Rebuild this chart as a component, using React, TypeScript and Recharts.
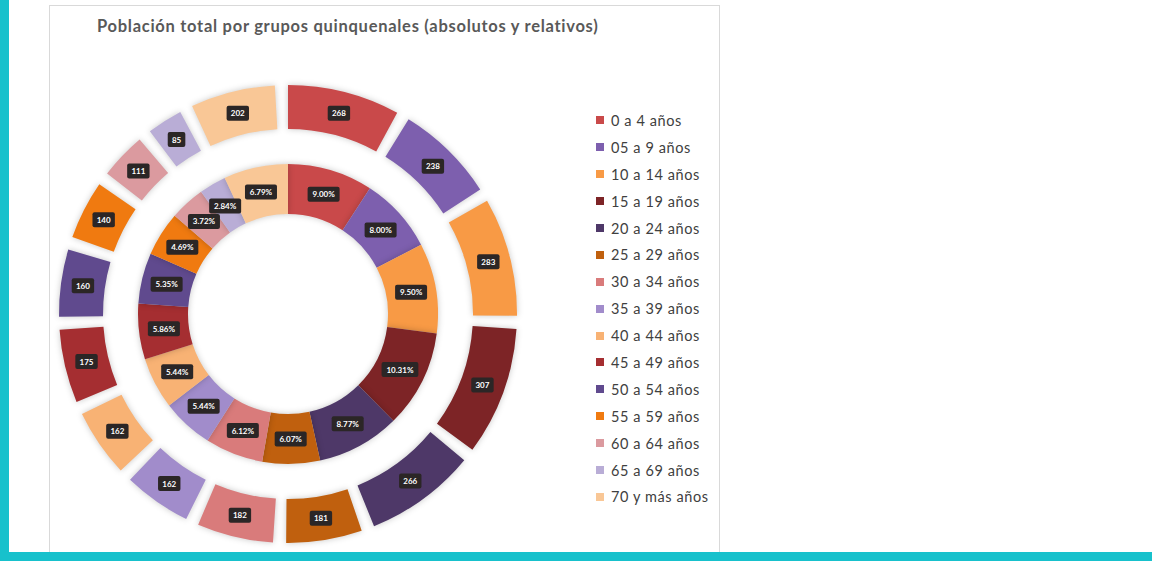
import React from 'react';
import {PieChart, Pie, Cell, Legend} from 'recharts';

const grupos = [
  '0 a 4 años',
  '05 a 9 años',
  '10 a 14 años',
  '15 a 19 años',
  '20 a 24 años',
  '25 a 29 años',
  '30 a 34 años',
  '35 a 39 años',
  '40 a 44 años',
  '45 a 49 años',
  '50 a 54 años',
  '55 a 59 años',
  '60 a 64 años',
  '65 a 69 años',
  '70 y más años',
];

const absolutos = [268, 238, 283, 307, 266, 181, 182, 162, 162, 175, 160, 140, 111, 85, 202];

const relativos = [9.0, 8.0, 9.5, 10.31, 8.77, 6.07, 6.12, 5.44, 5.44, 5.86, 5.35, 4.69, 3.72, 2.84, 6.79];

const colores = [
  '#C9494A',
  '#7D5FAE',
  '#F89A45',
  '#7D2426',
  '#4E3868',
  '#C0600E',
  '#D97B7B',
  '#A18CCB',
  '#F8B274',
  '#A52E31',
  '#604A8E',
  '#F07A10',
  '#DB9A9F',
  '#B9ADD6',
  '#F9C796',
];

const titulo = 'Población total por grupos quinquenales (absolutos y relativos)';

const outerData = grupos.map((g, i) => ({name: g, value: absolutos[i]}));
const innerData = grupos.map((g, i) => ({name: g, value: relativos[i]}));

const RAD = Math.PI / 180;

const makeLabel = (fmt: (v: number) => string) => (props: any) => {
  const {cx, cy, midAngle, innerRadius, outerRadius, value} = props;
  const r = (innerRadius + outerRadius) / 2;
  const x = cx + r * Math.cos(-midAngle * RAD);
  const y = cy + r * Math.sin(-midAngle * RAD);
  const txt = fmt(value);
  const w = txt.length * 4.8 + 8;
  return (
    <g>
      <rect x={x - w / 2} y={y - 7.5} width={w} height={15} rx={2} fill='#2b2626' />
      <text
        x={x}
        y={y}
        dy={3}
        textAnchor='middle'
        fill='#ffffff'
        fontSize={8}
        fontWeight='bold'
        fontFamily='Lato, sans-serif'
      >
        {txt}
      </text>
    </g>
  );
};

const LegendList = () => (
  <div style={{fontFamily: 'Lato, sans-serif', fontSize: 14.5, letterSpacing: 0.6, color: '#404040'}}>
    {grupos.map((g, i) => (
      <div key={g} style={{display: 'flex', alignItems: 'center', height: 26.9}}>
        <span
          style={{
            width: 8,
            height: 8,
            background: colores[i],
            marginRight: 7,
            display: 'inline-block',
          }}
        />
        {g}
      </div>
    ))}
  </div>
);

const App = () => {
  return (
    <div style={{position: 'relative', width: 1163, height: 564, background: '#fff'}}>
      <style>{`body{margin:0}
        .ring .recharts-pie-sector path{filter:drop-shadow(0 0 3px rgba(0,0,0,0.22));}`}</style>
      <div style={{position: 'absolute', left: 0, top: 0, width: 9, height: 561, background: '#17C1CC'}} />
      <div style={{position: 'absolute', left: 0, top: 552, width: 1152, height: 9, background: '#17C1CC'}} />
      <div
        style={{
          position: 'absolute',
          left: 49,
          top: 5,
          width: 671,
          height: 547,
          border: '1px solid #d9d9d9',
          borderBottom: 'none',
          boxSizing: 'border-box',
        }}
      >
        <div
          style={{
            position: 'absolute',
            left: 47,
            top: 10,
            fontFamily: 'Lato, sans-serif',
            fontWeight: 'bold',
            fontSize: 16.5,
            letterSpacing: 0.72,
            color: '#595959',
            whiteSpace: 'nowrap',
          }}
        >
          {titulo}
        </div>
        <PieChart width={669} height={546}>
          <Pie
            className='ring'
            data={outerData}
            dataKey='value'
            nameKey='name'
            cx={233}
            cy={303}
            startAngle={90}
            endAngle={-270}
            innerRadius={185}
            outerRadius={229}
            paddingAngle={3.3}
            stroke='none'
            label={makeLabel((v) => String(v))}
            labelLine={false}
            isAnimationActive={false}
          >
            {outerData.map((d, i) => (
              <Cell key={d.name} fill={colores[i]} />
            ))}
          </Pie>
          <Pie
            className='ring'
            data={innerData}
            dataKey='value'
            nameKey='name'
            cx={233}
            cy={303}
            startAngle={90}
            endAngle={-270}
            innerRadius={100}
            outerRadius={150}
            stroke='none'
            label={makeLabel((v) => v.toFixed(2) + '%')}
            labelLine={false}
            isAnimationActive={false}
          >
            {innerData.map((d, i) => (
              <Cell key={d.name} fill={colores[i]} />
            ))}
          </Pie>
          <Legend
            layout='vertical'
            content={() => <LegendList />}
            wrapperStyle={{left: 546, top: 101, width: 150}}
          />
        </PieChart>
      </div>
    </div>
  );
};

export default App;
